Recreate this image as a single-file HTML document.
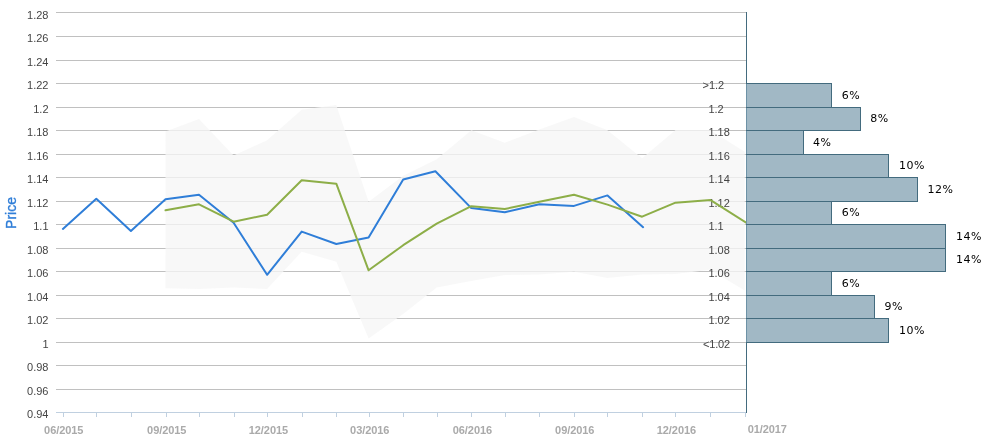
<!DOCTYPE html>
<html lang="en"><head><meta charset="utf-8"><title>Price</title>
<style>html,body{margin:0;padding:0;background:#fff;overflow:hidden}svg{display:block}text{font-family:"Liberation Sans",Arial,Helvetica,sans-serif}.dl text{font-family:"DejaVu Sans",Verdana,sans-serif;font-size:11px;fill:#000;letter-spacing:0.5px}</style></head><body>
<svg width="990" height="441" viewBox="0 0 990 441">
<rect width="990" height="441" fill="#fff"/>
<clipPath id="c"><rect x="56" y="12" width="690.5" height="401"/></clipPath>
<g stroke="#C0C0C0" stroke-width="1" shape-rendering="crispEdges">
<path d="M56 12.5H746"/>
<path d="M56 36.5H746"/>
<path d="M56 60.5H746"/>
<path d="M56 83.5H746"/>
<path d="M56 107.5H746"/>
<path d="M56 130.5H746"/>
<path d="M56 154.5H746"/>
<path d="M56 177.5H746"/>
<path d="M56 201.5H746"/>
<path d="M56 224.5H746"/>
<path d="M56 248.5H746"/>
<path d="M56 271.5H746"/>
<path d="M56 295.5H746"/>
<path d="M56 318.5H746"/>
<path d="M56 342.5H746"/>
<path d="M56 365.5H746"/>
<path d="M56 389.5H746"/>
</g>
<g clip-path="url(#c)">
<path d="M165.5 131.6 L199.0 118.9 L233.6 155.6 L267.1 140.2 L301.7 109.7 L336.3 104.9 L368.6 201.7 L403.2 175.7 L436.7 159.2 L471.3 130.3 L504.8 142.8 L539.4 129.4 L574.0 117.0 L607.5 130.3 L642.1 158.3 L675.5 129.9 L710.1 130.1 L744.7 151.8 L744.7 290.5 L710.1 269.8 L675.5 274.0 L642.1 274.6 L607.5 278.1 L574.0 271.7 L539.4 274.6 L504.8 275.0 L471.3 281.0 L436.7 287.6 L403.2 314.0 L368.6 338.4 L336.3 261.8 L301.7 251.7 L267.1 288.9 L233.6 287.6 L199.0 288.9 L165.5 288.3Z" fill="#f6f6f6" fill-opacity="0.78"/>
</g>
<g stroke="#C0D0E0" stroke-width="1" shape-rendering="crispEdges">
<path d="M56 412.5H746"/>
<path d="M63.5 412V417"/>
<path d="M96.5 412V417"/>
<path d="M131.5 412V417"/>
<path d="M166.5 412V417"/>
<path d="M199.5 412V417"/>
<path d="M234.5 412V417"/>
<path d="M267.5 412V417"/>
<path d="M302.5 412V417"/>
<path d="M336.5 412V417"/>
<path d="M369.5 412V417"/>
<path d="M403.5 412V417"/>
<path d="M437.5 412V417"/>
<path d="M471.5 412V417"/>
<path d="M505.5 412V417"/>
<path d="M539.5 412V417"/>
<path d="M574.5 412V417"/>
<path d="M607.5 412V417"/>
<path d="M642.5 412V417"/>
<path d="M675.5 412V417"/>
<path d="M710.5 412V417"/>
<path d="M745.5 412V417"/>
</g>
<g font-size="11" fill="#444444" text-anchor="end">
<text x="48.5" y="19">1.28</text>
<text x="48.5" y="42">1.26</text>
<text x="48.5" y="66">1.24</text>
<text x="48.5" y="89">1.22</text>
<text x="48.5" y="113">1.2</text>
<text x="48.5" y="136">1.18</text>
<text x="48.5" y="160">1.16</text>
<text x="48.5" y="183">1.14</text>
<text x="48.5" y="207">1.12</text>
<text x="48.5" y="230">1.1</text>
<text x="48.5" y="254">1.08</text>
<text x="48.5" y="277">1.06</text>
<text x="48.5" y="301">1.04</text>
<text x="48.5" y="324">1.02</text>
<text x="48.5" y="348">1</text>
<text x="48.5" y="371">0.98</text>
<text x="48.5" y="395">0.96</text>
<text x="48.5" y="418">0.94</text>
</g>
<g font-size="11" font-weight="bold" fill="#AAAAAA" text-anchor="middle" letter-spacing="-0.08">
<text x="63.7" y="434">06/2015</text>
<text x="166.7" y="434">09/2015</text>
<text x="268.4" y="434">12/2015</text>
<text x="369.7" y="434">03/2016</text>
<text x="472.4" y="434">06/2016</text>
<text x="574.7" y="434">09/2016</text>
<text x="676.4" y="434">12/2016</text>
<text x="747.7" y="433" text-anchor="start">01/2017</text>
</g>
<text transform="translate(15.8,213) rotate(-90)" text-anchor="middle" font-size="14" fill="#2f7ed8" stroke="#2f7ed8" stroke-width="0.35">Price</text>
<g font-size="11" fill="#444444">
<text x="702.5" y="89">>1.2</text>
<text x="708.4" y="113">1.2</text>
<text x="708.4" y="136">1.18</text>
<text x="708.4" y="160">1.16</text>
<text x="708.4" y="183">1.14</text>
<text x="708.4" y="207">1.12</text>
<text x="708.4" y="230">1.1</text>
<text x="708.4" y="254">1.08</text>
<text x="708.4" y="277">1.06</text>
<text x="708.4" y="301">1.04</text>
<text x="708.4" y="324">1.02</text>
<text x="703.0" y="348" letter-spacing="-0.2"><1.02</text>
</g>
<g clip-path="url(#c)" fill="none" stroke-width="2" stroke-linejoin="round" stroke-linecap="round">
<path d="M62.9 228.9 L96.3 198.7 L130.9 231 L165.5 199.2 L199.0 194.7 L233.6 222.7 L267.1 274.8 L301.7 231.6 L336.3 244 L368.6 237.6 L403.2 179.5 L435.4 171.3 L471.3 208.1 L504.8 212.2 L539.4 204.3 L574.0 205.9 L607.5 195.4 L643.1 227.2" stroke="#2f7ed8"/>
<path d="M165.5 210.3 L199.0 204.3 L233.6 221.7 L267.1 214.8 L301.7 180.2 L336.3 183.7 L368.6 270.3 L403.2 245.2 L436.7 223.7 L471.3 206.2 L504.8 209 L539.4 201.7 L574.0 194.8 L607.5 204.6 L642.1 216.7 L675.5 202.7 L710.6 200.1 L747.0 223.2" stroke="#8DAE48"/>
</g>
<g shape-rendering="crispEdges">
<path d="M746.5 12V413" fill="none" stroke="#436B7E"/>
<path d="M746 83.5H831.5V107.5H746" fill="#A1B8C5" stroke="#436B7E"/>
<path d="M746.5 84.0V107.0" fill="none" stroke="#6D92A6"/>
<path d="M746 107.5H860.5V130.5H746" fill="#A1B8C5" stroke="#436B7E"/>
<path d="M746.5 108.0V130.0" fill="none" stroke="#6D92A6"/>
<path d="M746 130.5H803.5V154.5H746" fill="#A1B8C5" stroke="#436B7E"/>
<path d="M746.5 131.0V154.0" fill="none" stroke="#6D92A6"/>
<path d="M746 154.5H888.5V177.5H746" fill="#A1B8C5" stroke="#436B7E"/>
<path d="M746.5 155.0V177.0" fill="none" stroke="#6D92A6"/>
<path d="M746 177.5H917.5V201.5H746" fill="#A1B8C5" stroke="#436B7E"/>
<path d="M746.5 178.0V201.0" fill="none" stroke="#6D92A6"/>
<path d="M746 201.5H831.5V224.5H746" fill="#A1B8C5" stroke="#436B7E"/>
<path d="M746.5 202.0V224.0" fill="none" stroke="#6D92A6"/>
<path d="M746 224.5H945.5V248.5H746" fill="#A1B8C5" stroke="#436B7E"/>
<path d="M746.5 225.0V248.0" fill="none" stroke="#6D92A6"/>
<path d="M746 248.5H945.5V271.5H746" fill="#A1B8C5" stroke="#436B7E"/>
<path d="M746.5 249.0V271.0" fill="none" stroke="#6D92A6"/>
<path d="M746 271.5H831.5V295.5H746" fill="#A1B8C5" stroke="#436B7E"/>
<path d="M746.5 272.0V295.0" fill="none" stroke="#6D92A6"/>
<path d="M746 295.5H874.5V318.5H746" fill="#A1B8C5" stroke="#436B7E"/>
<path d="M746.5 296.0V318.0" fill="none" stroke="#6D92A6"/>
<path d="M746 318.5H888.5V342.5H746" fill="#A1B8C5" stroke="#436B7E"/>
<path d="M746.5 319.0V342.0" fill="none" stroke="#6D92A6"/>
</g>
<g class="dl">
<text x="841.7" y="99">6%</text>
<text x="870.3" y="122">8%</text>
<text x="813.1" y="146">4%</text>
<text x="898.9" y="169">10%</text>
<text x="927.4" y="193">12%</text>
<text x="841.7" y="216">6%</text>
<text x="956.0" y="240">14%</text>
<text x="956.0" y="263">14%</text>
<text x="841.7" y="287">6%</text>
<text x="884.6" y="310">9%</text>
<text x="898.9" y="334">10%</text>
</g>
</svg></body></html>
